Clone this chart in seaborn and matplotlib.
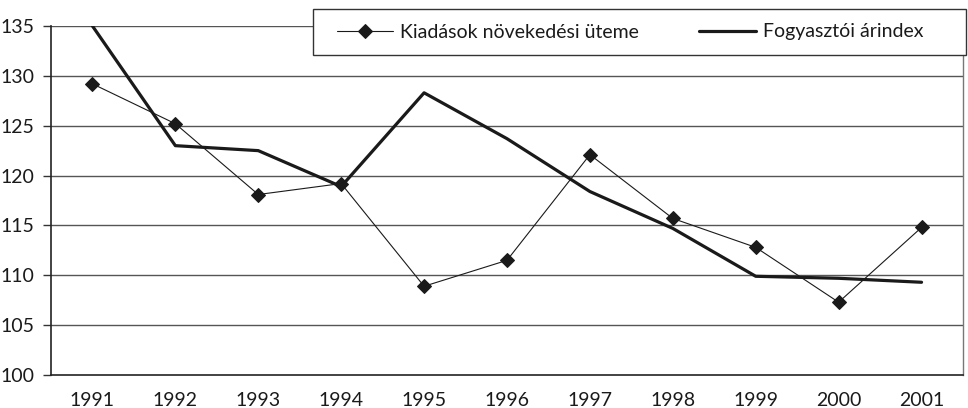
import numpy as np
import pandas as pd
import matplotlib
matplotlib.use("Agg")
import matplotlib.pyplot as plt
from matplotlib.patches import Rectangle
import seaborn as sns

# adatok (leolvasva az eredeti ábráról)
evek = ['1991', '1992', '1993', '1994', '1995', '1996', '1997', '1998', '1999', '2000', '2001']
kiadasok = [129.2, 125.2, 118.1, 119.2, 108.9, 111.5, 122.1, 115.7, 112.8, 107.3, 114.8]
arindex = [135.0, 123.0, 122.5, 118.9, 128.3, 123.7, 118.4, 114.7, 109.9, 109.7, 109.3]
y_ticks = [100, 105, 110, 115, 120, 125, 130, 135]

nev_kiadas = 'Kiadások növekedési üteme'
nev_arindex = 'Fogyasztói árindex'

df = pd.DataFrame({'ev': evek, 'poz': np.arange(len(evek)),
                   nev_kiadas: kiadasok, nev_arindex: arindex})

sns.set_style('white')
plt.rcParams['font.family'] = ['Lato', 'DejaVu Sans']
szin = '#1a1a1a'

fig = plt.figure(figsize=(9.68, 4.08), dpi=100)
ax = fig.add_axes([51 / 968, 1 - 375 / 408, (963 - 51) / 968, (375 - 26) / 408])

# vízszintes rácsvonalak
for y in y_ticks[1:]:
    ax.axhline(y, color='#555555', lw=1.0, zorder=1)

sns.lineplot(data=df, x='poz', y=nev_kiadas, ax=ax, color=szin, lw=0.8,
             marker='D', markersize=7.5, markeredgecolor=szin, markerfacecolor=szin,
             label=nev_kiadas, zorder=3, legend=False)
sns.lineplot(data=df, x='poz', y=nev_arindex, ax=ax, color=szin, lw=2.3,
             label=nev_arindex, zorder=2, legend=False)

ax.set_xlim(-0.5, len(evek) - 0.5)
ax.set_ylim(100, 135)
ax.set_yticks(y_ticks)
ax.set_yticklabels([str(v) for v in y_ticks], fontsize=14, color=szin)
ax.set_xticks(df['poz'])
ax.set_xticklabels(evek, fontsize=14, color=szin)
ax.set_xticks(np.arange(-0.5, len(evek)), minor=True)
ax.tick_params(axis='x', which='major', length=0, pad=12)
ax.tick_params(axis='x', which='minor', length=7, width=1, color='#333333', direction='out')
ax.tick_params(axis='y', length=6, width=1, color='#333333', direction='out', pad=6, left=True)
ax.set_xlabel('')
ax.set_ylabel('')

for s in ['left', 'bottom']:
    ax.spines[s].set_color('#222222')
    ax.spines[s].set_linewidth(1.2)
ax.spines['right'].set_color('#777777')
ax.spines['right'].set_linewidth(1.0)
ax.spines['top'].set_visible(False)

# jelmagyarázat kerettel
keret = Rectangle((313 / 968, 1 - 55 / 408), (966 - 313) / 968, 46 / 408,
                  transform=fig.transFigure, facecolor='white',
                  edgecolor='#333333', lw=1.0, zorder=3)
fig.add_artist(keret)
kezelok, cimkek = ax.get_legend_handles_labels()
leg = fig.legend(kezelok, cimkek, loc='center left', bbox_to_anchor=(337 / 968, 1 - 32 / 408),
                 ncol=2, frameon=False, fontsize=14, handlelength=2.9, handletextpad=0.35,
                 columnspacing=3.1, borderpad=0, borderaxespad=0)
for t in leg.get_texts():
    t.set_color(szin)
leg.set_zorder(5)

fig.savefig('out.png', dpi=100)
